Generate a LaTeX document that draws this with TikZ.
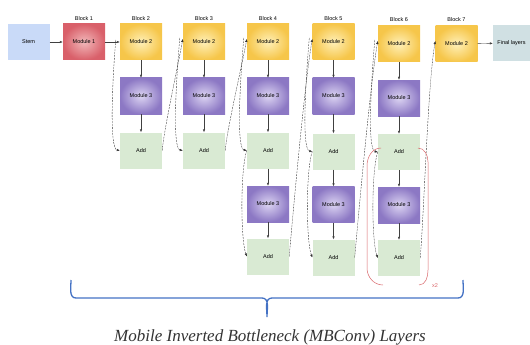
\documentclass[tikz,border=0pt]{standalone}
\usepackage{fontspec}
\setmainfont{Liberation Serif}
\setsansfont{Liberation Sans}
\usepackage{tikz}
\usetikzlibrary{arrows.meta}
\definecolor{stemcol}{HTML}{C9DAF8}
\definecolor{onein}{HTML}{F2B8BA}
\definecolor{oneout}{HTML}{D9606A}
\definecolor{twoin}{HTML}{FFF0B8}
\definecolor{twoout}{HTML}{F6C64A}
\definecolor{threein}{HTML}{DCD4F2}
\definecolor{threeout}{HTML}{8C78C4}
\definecolor{addcol}{HTML}{D9EAD3}
\definecolor{finalcol}{HTML}{D0E0E3}
\definecolor{bracecol}{HTML}{4472C4}
\definecolor{repcol}{HTML}{D9676B}
\tikzset{>={Latex[length=3pt,width=2.4pt]}}
\tikzset{box/.style={minimum width=42pt,minimum height=36pt,inner sep=0pt,font=\sffamily\fontsize{5.5}{6}\selectfont},
         stembox/.style={box,fill=stemcol},
         modone/.style={box,inner color=onein,outer color=oneout},
         modtwo/.style={box,inner color=twoin,outer color=twoout},
         modthree/.style={box,inner color=threein,outer color=threeout},
         addbox/.style={box,fill=addcol},
         finalbox/.style={box,minimum width=37pt,fill=finalcol},
         blocklbl/.style={font=\sffamily\fontsize{5.5}{6}\selectfont},
         flow/.style={->,line width=0.4pt,draw=black!75},
         skip/.style={->,line width=0.35pt,draw=black!80,dash pattern=on 2pt off 1pt},
         skipin/.style={skip,out=-95,in=170,out looseness=0.9,in looseness=0.25},
         skipout/.style={skip,out=85,in=260,looseness=0.5},
         skipadd/.style={skip,out=-110,in=110,looseness=0.45}}

\begin{document}
\begin{tikzpicture}[x=1pt,y=-1pt]
    \useasboundingbox (0,0) rectangle (530,345);

    \node[stembox] (stem) at (28.5,42) {Stem};
    \node[modone] (m1) at (84,42) {Module 1};
    \node[finalbox] (final) at (511.5,43) {Final layers};

    \node[blocklbl] (l1) at (84,19) {Block 1};
    \node[blocklbl] (l2) at (141,19) {Block 2};
    \node[blocklbl] (l3) at (204,19) {Block 3};
    \node[blocklbl] (l4) at (268,19) {Block 4};
    \node[blocklbl] (l5) at (333.5,19) {Block 5};
    \node[blocklbl] (l6) at (399,20) {Block 6};
    \node[blocklbl] (l7) at (456.5,20) {Block 7};

    \node[modtwo] (m2b2) at (141,42) {Module 2};
    \node[modthree] (m3b2) at (141,96) {Module 3};
    \node[addbox] (ab2) at (141,150.5) {Add};

    \node[modtwo] (m2b3) at (204,42) {Module 2};
    \node[modthree] (m3b3) at (204,96) {Module 3};
    \node[addbox] (ab3) at (204,150.5) {Add};

    \node[modtwo] (m2b4) at (268,42) {Module 2};
    \node[modthree] (m3b4) at (268,96) {Module 3};
    \node[addbox] (ab4) at (268,150.5) {Add};
    \node[modthree] (nb4) at (268,204) {Module 3};
    \node[addbox] (cb4) at (268,256.5) {Add};

    \node[modtwo] (m2b5) at (333.5,42) {Module 2};
    \node[modthree] (m3b5) at (333.5,96) {Module 3};
    \node[addbox] (ab5) at (333.5,151.5) {Add};
    \node[modthree] (nb5) at (333.5,204.5) {Module 3};
    \node[addbox] (cb5) at (333.5,257.5) {Add};

    \node[modtwo] (m2b6) at (399,44) {Module 2};
    \node[modthree] (m3b6) at (399,98) {Module 3};
    \node[addbox] (ab6) at (399,152) {Add};
    \node[modthree] (nb6) at (399,205) {Module 3};
    \node[addbox] (cb6) at (399,258) {Add};

    \node[modtwo] (m2b7) at (456.5,44) {Module 2};

    \draw[flow] (stem) -- (m1);
    \draw[flow] (m1) -- (m2b2);
    \draw[flow] (m2b7) -- (final);

    \draw[flow] (m2b2) -- (m3b2);
    \draw[flow] (m3b2) -- (ab2);
    \draw[flow] (m2b3) -- (m3b3);
    \draw[flow] (m3b3) -- (ab3);
    \draw[flow] (m2b4) -- (m3b4);
    \draw[flow] (m3b4) -- (ab4);
    \draw[flow] (ab4) -- (nb4);
    \draw[flow] (nb4) -- (cb4);
    \draw[flow] (m2b5) -- (m3b5);
    \draw[flow] (m3b5) -- (ab5);
    \draw[flow] (ab5) -- (nb5);
    \draw[flow] (nb5) -- (cb5);
    \draw[flow] (m2b6) -- (m3b6);
    \draw[flow] (m3b6) -- (ab6);
    \draw[flow] (ab6) -- (nb6);
    \draw[flow] (nb6) -- (cb6);

    \draw[skipin] ([xshift=-4pt,yshift=2pt]m2b2.west) to (ab2.west);
    \draw[skipout] (ab2.east) to ([yshift=3pt]m2b3.west);
    \draw[skipin] ([xshift=-3pt,yshift=4pt]m2b3.west) to (ab3.west);
    \draw[skipout] (ab3.east) to ([yshift=3pt]m2b4.west);
    \draw[skipin] ([xshift=-3pt,yshift=4pt]m2b4.west) to (ab4.west);
    \draw[skipadd] (ab4.west) to (cb4.west);
    \draw[skipout] (cb4.east) to ([yshift=3pt]m2b5.west);
    \draw[skipin] ([xshift=-3pt,yshift=4pt]m2b5.west) to (ab5.west);
    \draw[skipadd] (ab5.west) to (cb5.west);
    \draw[skipout] (cb5.east) to ([yshift=3pt]m2b6.west);
    \draw[skipin] ([xshift=-3pt,yshift=4pt]m2b6.west) to (ab6.west);
    \draw[skipadd] (ab6.west) to (cb6.west);
    \draw[skipout] (cb6.east) to ([yshift=3pt]m2b7.west);

    \draw[repcol,line width=0.5pt] (381,148) to[out=180,in=90] (367,166) -- (367,268) to[out=-90,in=180] (383,285);
    \draw[repcol,line width=0.5pt] (418,148) to[out=0,in=90] (428,162) -- (428,270) to[out=-90,in=0] (419,285);
    \node[text=repcol,font=\sffamily\fontsize{5.5}{6}\selectfont] (rep) at (435,286) {x2};

    \draw[bracecol,line width=1.3pt] (71,280) to[out=-90,in=180] (76,298) -- (262,298)
        to[out=0,in=90] (267,317) to[out=90,in=180] (272,298) -- (458,298) to[out=0,in=-90] (463,280);
    \node[text=black!80,font=\itshape\fontsize{17}{18}\selectfont] (cap) at (270,337) {Mobile Inverted Bottleneck (MBConv) Layers};
\end{tikzpicture}
\end{document}
